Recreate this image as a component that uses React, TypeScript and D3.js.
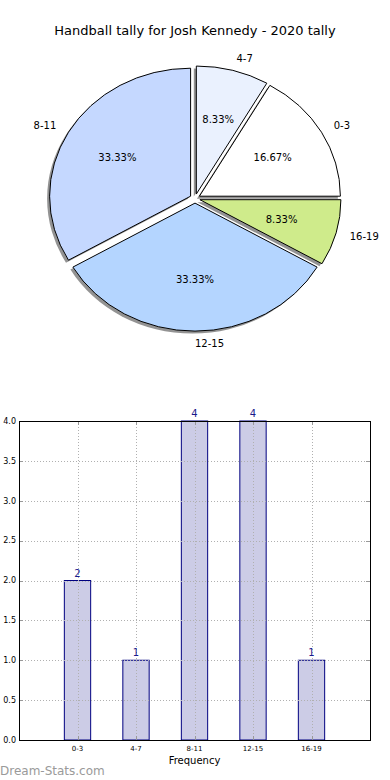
import React, { useEffect, useRef } from 'react';
import * as d3 from 'd3';

const categories = ['0-3', '4-7', '8-11', '12-15', '16-19'];
const counts = [2, 1, 4, 4, 1];
const sliceColors = ['#ffffff', '#eaf1fe', '#c5d8ff', '#b4d5ff', '#cfeb8b'];
const yTicks = [0, 0.5, 1, 1.5, 2, 2.5, 3, 3.5, 4];

const W = 390;
const H = 780;
const font = 'DejaVu Sans, sans-serif';

function App() {
  const ref = useRef<SVGSVGElement>(null);

  useEffect(() => {
    const svg = d3.select(ref.current);
    svg.selectAll('*').remove();

    svg.append('rect').attr('width', W).attr('height', H).attr('fill', '#fff');

    // ---- pie ----
    svg.append('text')
      .attr('x', 195).attr('y', 35)
      .attr('text-anchor', 'middle')
      .style('font', `13px ${font}`)
      .text('Handball tally for Josh Kennedy - 2020 tally');

    const cx = 195, cy = 198.5, rx = 141, ry = 128;
    const k = ry / rx;
    const explode = 0.036;
    const total = d3.sum(counts);

    // matplotlib: start at 3 o'clock, counter-clockwise
    const pie = d3.pie<number>().sort(null).startAngle(Math.PI / 2).endAngle(Math.PI / 2 - 2 * Math.PI);
    const arcs = pie(counts);
    const arc = d3.arc<d3.PieArcDatum<number>>().innerRadius(0).outerRadius(rx);

    const off = (a: d3.PieArcDatum<number>) => {
      const mid = (a.startAngle + a.endAngle) / 2;
      return [explode * rx * Math.sin(mid), -explode * rx * Math.cos(mid), mid];
    };

    const shadow = svg.append('g');
    const slices = svg.append('g');
    arcs.forEach((a, i) => {
      const [ox, oy] = off(a);
      shadow.append('path')
        .attr('d', arc(a) as string)
        .attr('transform', `translate(${cx - 2.5},${cy + 2.5}) scale(1,${k}) translate(${ox},${oy})`)
        .attr('fill', '#808080')
        .attr('fill-opacity', 0.85);
      slices.append('path')
        .attr('d', arc(a) as string)
        .attr('transform', `translate(${cx},${cy}) scale(1,${k}) translate(${ox},${oy})`)
        .attr('fill', sliceColors[i])
        .attr('stroke', '#000')
        .attr('stroke-width', 1)
        .attr('vector-effect', 'non-scaling-stroke');
    });

    arcs.forEach((a, i) => {
      const [ox, oy, mid] = off(a);
      const ecx = cx + ox, ecy = cy + oy * k;
      const sx = Math.sin(mid), sy = -Math.cos(mid);
      // category label
      svg.append('text')
        .attr('x', ecx + 1.1 * rx * sx)
        .attr('y', ecy + 1.1 * ry * sy)
        .attr('dy', '0.35em')
        .attr('text-anchor', sx >= -1e-6 ? 'start' : 'end')
        .style('font', `10px ${font}`)
        .text(categories[i]);
      // percent
      svg.append('text')
        .attr('x', ecx + 0.6 * rx * sx)
        .attr('y', ecy + 0.6 * ry * sy)
        .attr('dy', '0.35em')
        .attr('text-anchor', 'middle')
        .style('font', `10px ${font}`)
        .text(`${((counts[i] / total) * 100).toFixed(2)}%`);
    });

    // ---- bar chart ----
    const left = 19, right = 370, top = 421, bottom = 740;
    const x = d3.scaleLinear().domain([-1, categories.length]).range([left, right]);
    const y = d3.scaleLinear().domain([0, 4]).range([bottom, top]);
    const bw = x(0.45) - x(0);

    const g = svg.append('g');
    g.selectAll('rect.bar')
      .data(counts)
      .enter()
      .append('rect')
      .attr('x', (d, i) => x(i) - bw / 2)
      .attr('y', d => y(d))
      .attr('width', bw)
      .attr('height', d => y(0) - y(d))
      .attr('fill', '#cccce6')
      .attr('stroke', '#000080')
      .attr('stroke-width', 1);

    // grid
    g.selectAll('line.hg')
      .data(yTicks)
      .enter()
      .append('line')
      .attr('x1', left).attr('x2', right)
      .attr('y1', d => Math.round(y(d)) + 0.5).attr('y2', d => Math.round(y(d)) + 0.5)
      .attr('stroke', '#b0b0b0')
      .attr('stroke-dasharray', '1,2');
    g.selectAll('line.vg')
      .data(categories)
      .enter()
      .append('line')
      .attr('x1', (d, i) => Math.round(x(i)) + 0.5).attr('x2', (d, i) => Math.round(x(i)) + 0.5)
      .attr('y1', top).attr('y2', bottom)
      .attr('stroke', '#b0b0b0')
      .attr('stroke-dasharray', '1,2');

    // tick marks (inside)
    yTicks.forEach(t => {
      const yy = Math.round(y(t)) + 0.5;
      g.append('line').attr('x1', left).attr('x2', left + 4).attr('y1', yy).attr('y2', yy).attr('stroke', '#999');
      g.append('line').attr('x1', right - 4).attr('x2', right).attr('y1', yy).attr('y2', yy).attr('stroke', '#999');
    });
    categories.forEach((c, i) => {
      const xx = Math.round(x(i)) + 0.5;
      g.append('line').attr('x1', xx).attr('x2', xx).attr('y1', top).attr('y2', top + 4).attr('stroke', '#999');
      g.append('line').attr('x1', xx).attr('x2', xx).attr('y1', bottom - 4).attr('y2', bottom).attr('stroke', '#999');
    });

    // frame
    g.append('rect')
      .attr('x', left + 0.5).attr('y', top + 0.5)
      .attr('width', right - left).attr('height', bottom - top)
      .attr('fill', 'none').attr('stroke', '#000');

    // value labels
    g.selectAll('text.val')
      .data(counts)
      .enter()
      .append('text')
      .attr('x', (d, i) => x(i))
      .attr('y', d => y(d) - 4)
      .attr('text-anchor', 'middle')
      .attr('fill', '#1a1a8c')
      .style('font', `10px ${font}`)
      .text(d => d);

    // y tick labels
    g.selectAll('text.yt')
      .data(yTicks)
      .enter()
      .append('text')
      .attr('x', left - 3)
      .attr('y', d => y(d))
      .attr('dy', '0.35em')
      .attr('text-anchor', 'end')
      .style('font', `8px ${font}`)
      .text(d => d.toFixed(1));

    // x tick labels
    g.selectAll('text.xt')
      .data(categories)
      .enter()
      .append('text')
      .attr('x', (d, i) => x(i))
      .attr('y', bottom + 11)
      .attr('text-anchor', 'middle')
      .style('font', `7px ${font}`)
      .text(d => d);

    g.append('text')
      .attr('x', (left + right) / 2)
      .attr('y', 764)
      .attr('text-anchor', 'middle')
      .style('font', `10px ${font}`)
      .text('Frequency');

    svg.append('text')
      .attr('x', 0)
      .attr('y', 775)
      .attr('fill', '#9a9a9a')
      .style('font', `12px ${font}`)
      .text('Dream-Stats.com');
  }, []);

  return (
    <svg
      ref={ref}
      width={W}
      height={H}
      style={{ position: 'absolute', left: 0, top: 0, display: 'block' }}
    />
  );
}

export default App;
